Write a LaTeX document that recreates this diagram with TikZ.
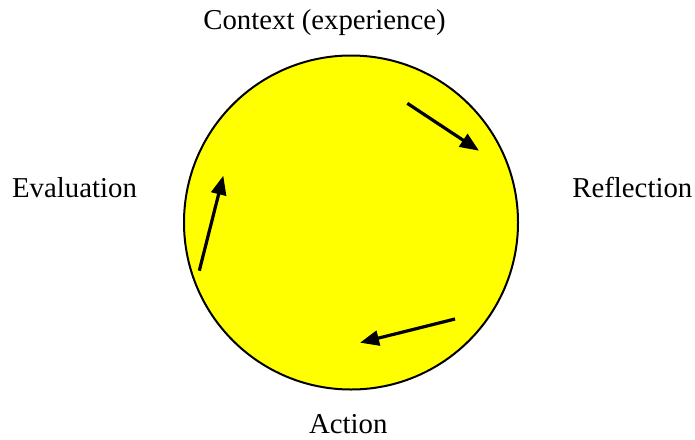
\documentclass[tikz,border=0pt]{standalone}
\usepackage{fontspec}
\setmainfont{Liberation Serif}
\usetikzlibrary{arrows.meta}
\definecolor{pureyellow}{RGB}{255,255,0}
\begin{document}
\begin{tikzpicture}[x=1pt,y=-1pt,
  lbl/.style={anchor=base,inner sep=0pt,font=\fontsize{28.8}{34}\selectfont},
  cyc/.style={line width=3.2pt,-{Triangle[length=19pt,width=15pt]}}]
\useasboundingbox (0,0) rectangle (695,439);
\node[circle,draw=black,line width=2pt,fill=pureyellow,minimum size=334pt,inner sep=0pt] (c) at (351,222.5) {};
\node[lbl] (ctx) at (324.5,29) {Context (experience)};
\node[lbl] (refl) at (632.3,197.7) {Reflection};
\node[lbl] (eval) at (74.5,197.7) {Evaluation};
\node[lbl] (act) at (348.3,433.3) {Action};
\coordinate (a1s) at (407.3,103.3);
\coordinate (a1e) at (479,150.7);
\coordinate (a2s) at (455,319);
\coordinate (a2e) at (360,342.7);
\coordinate (a3s) at (199.3,270.7);
\coordinate (a3e) at (223.3,175.7);
\draw[cyc] (a1s) -- (a1e);
\draw[cyc] (a2s) -- (a2e);
\draw[cyc] (a3s) -- (a3e);
\end{tikzpicture}
\end{document}
